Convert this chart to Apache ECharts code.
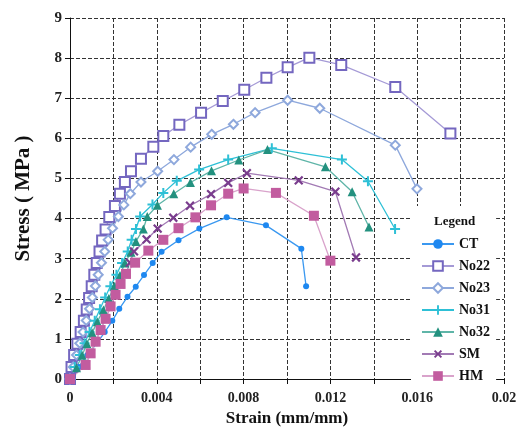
<!DOCTYPE html>
<html>
<head>
<meta charset="utf-8">
<script src="https://cdn.jsdelivr.net/npm/echarts@6/dist/echarts.min.js"></script>
<style>
  html, body { margin: 0; padding: 0; background: #fff; }
  #chart { width: 524px; height: 435px; }
</style>
</head>
<body>
<div id="chart"></div>
<script>
// [strain (mm/mm), stress (MPa)]
const ct = [[0, 0], [0.0004, 0.3], [0.0008, 0.6], [0.00124, 0.89], [0.0016, 1.17], [0.00195, 1.45],
  [0.00227, 1.75], [0.00265, 2.05], [0.00303, 2.3], [0.00341, 2.59], [0.00381, 2.89], [0.00422, 3.17],
  [0.005, 3.46], [0.00596, 3.75], [0.00722, 4.03], [0.00903, 3.83], [0.01066, 3.25], [0.01088, 2.31]];
const no22 = [[0, 0], [0.00007, 0.3], [0.00019, 0.6], [0.00034, 0.88], [0.00049, 1.17], [0.00064, 1.45],
  [0.00077, 1.73], [0.00088, 2.02], [0.001, 2.31], [0.00112, 2.6], [0.00123, 2.89], [0.00136, 3.18],
  [0.00148, 3.45], [0.00164, 3.73], [0.00181, 4.04], [0.00207, 4.31], [0.0023, 4.62], [0.00253, 4.91],
  [0.00281, 5.18], [0.00327, 5.49], [0.00384, 5.79], [0.0043, 6.06], [0.00504, 6.34], [0.00604, 6.64],
  [0.00704, 6.93], [0.00803, 7.21], [0.00905, 7.51], [0.01003, 7.77], [0.01103, 8.01], [0.0125, 7.83],
  [0.01499, 7.28], [0.01753, 6.12]];
const no23 = [[0, 0], [0.00015, 0.3], [0.0003, 0.6], [0.00045, 0.89], [0.0006, 1.17], [0.00075, 1.46],
  [0.0009, 1.75], [0.00103, 2.03], [0.00117, 2.32], [0.0013, 2.6], [0.00145, 2.9], [0.0016, 3.18],
  [0.00176, 3.47], [0.00196, 3.76], [0.00223, 4.05], [0.00248, 4.34], [0.00278, 4.62], [0.00327, 4.91],
  [0.00404, 5.18], [0.00479, 5.47], [0.00556, 5.78], [0.00653, 6.1], [0.00753, 6.35], [0.00853, 6.64],
  [0.01003, 6.95], [0.01151, 6.75], [0.01499, 5.83], [0.01599, 4.74]];
const no31 = [[0, 0], [0.00022, 0.3], [0.00045, 0.6], [0.00067, 0.89], [0.0009, 1.17], [0.00114, 1.45],
  [0.00138, 1.74], [0.00162, 2.03], [0.00186, 2.31], [0.00214, 2.6], [0.0024, 2.89], [0.00266, 3.18],
  [0.00284, 3.47], [0.00304, 3.74], [0.00323, 4.05], [0.0038, 4.35], [0.0043, 4.64], [0.00492, 4.94],
  [0.00595, 5.22], [0.00729, 5.47], [0.0093, 5.75], [0.01253, 5.47], [0.01373, 4.93], [0.01498, 3.74]];
const no32 = [[0, 0], [0.0003, 0.28], [0.00056, 0.59], [0.00078, 0.88], [0.00102, 1.15], [0.00126, 1.43],
  [0.00154, 1.72], [0.00179, 2.01], [0.00204, 2.31], [0.0023, 2.58], [0.00253, 2.89], [0.00281, 3.16],
  [0.00304, 3.43], [0.00338, 3.74], [0.00356, 4.05], [0.00403, 4.33], [0.00478, 4.62], [0.00555, 4.9],
  [0.00652, 5.19], [0.00778, 5.46], [0.0091, 5.72], [0.01177, 5.29], [0.013, 4.67], [0.01378, 3.79]];
const sm = [[0, 0], [0.00072, 0.35], [0.00095, 0.64], [0.00118, 0.93], [0.00141, 1.22], [0.00164, 1.5],
  [0.00187, 1.81], [0.0021, 2.1], [0.00233, 2.37], [0.00258, 2.62], [0.00276, 2.9], [0.00295, 3.18],
  [0.00353, 3.48], [0.00404, 3.75], [0.00476, 4.02], [0.00553, 4.32], [0.0065, 4.61], [0.00729, 4.89],
  [0.00815, 5.13], [0.01054, 4.95], [0.01223, 4.67], [0.01318, 3.03]];
const hm = [[0, 0], [0.00072, 0.35], [0.00095, 0.64], [0.00118, 0.93], [0.00141, 1.22], [0.00164, 1.5],
  [0.00187, 1.81], [0.0021, 2.1], [0.00233, 2.37], [0.00258, 2.62], [0.003, 2.9], [0.00361, 3.2],
  [0.0043, 3.47], [0.005, 3.76], [0.00578, 4.03], [0.0065, 4.33], [0.00729, 4.62], [0.008, 4.75],
  [0.00949, 4.64], [0.01124, 4.07], [0.012, 2.95]];

const seriesNames = ['CT', 'No22', 'No23', 'No31', 'No32', 'SM', 'HM'];
const yTicks = [0, 9, 1];
const xTicks = [0, 0.02, 0.002];

const FONT = 'Liberation Serif';
const crossPath = 'path://M4,0H6V4H10V6H6V10H4V6H0V4H4Z';

function makeSeries(name, data, symbol, size, color, lineColor, rotate) {
  return {
    name: name,
    type: 'line',
    data: data,
    symbol: symbol,
    symbolSize: size,
    symbolRotate: rotate || 0,
    showSymbol: true,
    itemStyle: { color: color, borderWidth: symbol.indexOf('empty') === 0 ? 1.5 : 0 },
    lineStyle: { color: lineColor, width: 1.3 }
  };
}

const chart = echarts.init(document.getElementById('chart'));
chart.setOption({
  animation: false,
  title: {
    text: 'Legend',
    left: 429,
    top: 210,
    textStyle: { fontFamily: FONT, fontWeight: 'bold', fontSize: 13, color: '#111' }
  },
  legend: {
    data: seriesNames,
    orient: 'vertical',
    left: 411,
    top: 206,
    padding: [31, 6, 6, 10],
    itemWidth: 32,
    itemHeight: 12,
    itemGap: 8,
    backgroundColor: '#fff',
    textStyle: { fontFamily: FONT, fontWeight: 'bold', fontSize: 14, color: '#111' }
  },
  grid: { left: 70, right: 20, top: 18, bottom: 56 },
  xAxis: {
    type: 'value',
    min: xTicks[0],
    max: xTicks[1],
    interval: xTicks[2],
    name: 'Strain (mm/mm)',
    nameLocation: 'middle',
    nameGap: 31,
    nameTextStyle: { fontFamily: FONT, fontWeight: 'bold', fontSize: 17, color: '#111' },
    axisLine: { lineStyle: { color: '#111' } },
    axisTick: { show: true },
    axisLabel: {
      fontFamily: FONT, fontWeight: 'bold', fontSize: 14, color: '#222', margin: 12,
      formatter: v => (Math.round(v / 0.002) % 2 === 0 ? String(+v.toFixed(3)) : '')
    },
    splitLine: { show: true, lineStyle: { color: '#333', type: 'dashed' } }
  },
  yAxis: {
    type: 'value',
    min: yTicks[0],
    max: yTicks[1],
    interval: yTicks[2],
    name: 'Stress ( MPa )',
    nameLocation: 'middle',
    nameGap: 36,
    nameRotate: 90,
    nameTextStyle: { fontFamily: FONT, fontWeight: 'bold', fontSize: 21, color: '#111' },
    axisLine: { show: true, lineStyle: { color: '#111' } },
    axisTick: { show: true },
    axisLabel: { fontFamily: FONT, fontWeight: 'bold', fontSize: 15, color: '#222', margin: 8 },
    splitLine: { show: true, lineStyle: { color: '#333', type: 'dashed' } }
  },
  series: [
    makeSeries('CT', ct, 'circle', 6, '#1e88f0', '#3a98f0'),
    makeSeries('No22', no22, 'emptyRect', 10, '#7467c0', '#a59ad6'),
    makeSeries('No23', no23, 'emptyDiamond', 9, '#8ea8dc', '#8ea8dc'),
    makeSeries('No31', no31, crossPath, 10, '#2ec0d6', '#2ec0d6'),
    makeSeries('No32', no32, 'triangle', 9, '#23917f', '#5fb5a8'),
    makeSeries('SM', sm, crossPath, 11, '#7a3d8e', '#a27ab4', 45),
    makeSeries('HM', hm, 'rect', 10, '#c25c9f', '#d9a3cb')
  ]
});
</script>
</body>
</html>
